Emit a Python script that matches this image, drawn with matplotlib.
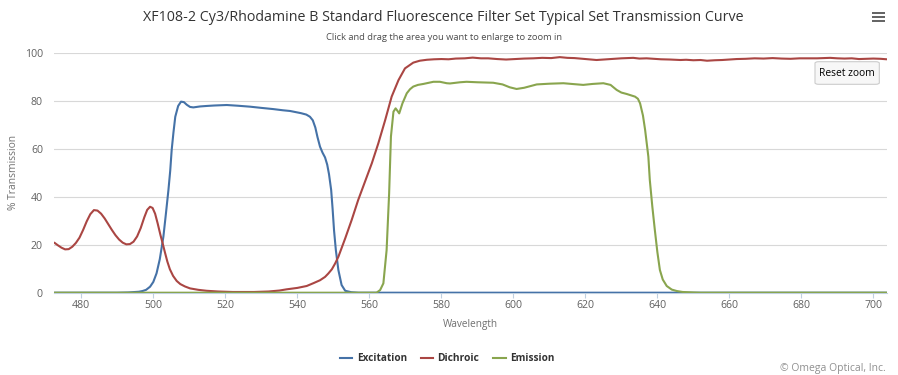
import matplotlib
matplotlib.use("Agg")
import matplotlib.pyplot as plt
from matplotlib.patches import FancyBboxPatch, Rectangle

W, H = 898, 375

# ---------------- data ----------------
title = "XF108-2 Cy3/Rhodamine B Standard Fluorescence Filter Set Typical Set Transmission Curve"
subtitle = "Click and drag the area you want to enlarge to zoom in"
x_label = "Wavelength"
y_label = "% Transmission"
series_names = ["Excitation", "Dichroic", "Emission"]
series_colors = ["#4572A7", "#AA4643", "#89A54E"]
x_ticks = [480, 500, 520, 540, 560, 580, 600, 620, 640, 660, 680, 700]
y_ticks = [0, 20, 40, 60, 80, 100]

exc_wl = [472.5, 490, 493, 496, 497, 498, 499.1, 500, 500.9, 501.8, 502.8, 503.5,
          504.2, 504.7, 505.1, 505.6, 506.1, 506.9, 507.7, 508.5, 509.3, 510.2, 511.1,
          513, 514.8, 517, 520.4, 523.5, 526.9, 530, 533.3, 536, 538, 541, 542.5,
          543.5, 544.3, 545, 545.6, 546.3, 547, 547.7, 548.3, 548.8, 549.4, 549.8,
          550.2, 550.7, 551.4, 552.3, 553.3, 555, 557, 703.7]
exc_t = [0, 0, 0.1, 0.4, 0.7, 1.2, 2.5, 4.5, 8.1, 14, 23.4, 33,
         42.9, 51, 59.6, 67, 73.5, 78, 79.8, 79.6, 78.5, 77.6, 77.4,
         77.8, 78, 78.2, 78.4, 78.1, 77.7, 77.2, 76.7, 76.2, 75.9, 75, 74.4,
         73.5, 72, 69, 65, 61, 58.5, 56.5, 53.5, 49.5, 42.9, 35,
         26, 17.8, 9.5, 3.2, 0.8, 0.2, 0, 0]

dic_wl = [472.5, 473.5, 474.5, 475.5, 476.5, 477.5, 478.5, 479.5, 480.5, 481.5, 482.5,
          483.5, 484.5, 485.5, 486.5, 487.5, 488.5, 489.5, 490.5, 491.5, 492.5, 493.5,
          494.5, 495.5, 496.5, 497.5, 498.3, 499.1, 499.8, 500.5, 501.2, 502, 502.6,
          503.2, 503.9, 504.6, 505.5, 506.5, 507.5, 508.8, 510.2, 512.5, 514.8, 518,
          522, 528, 532, 535, 537, 540, 542.6, 544.5, 546.3, 547.7, 548.6, 549.6, 550.5,
          551.4, 553.3, 555.1, 556.9, 558.8, 560.7, 562.5, 564.4, 566.2, 568.1, 569.9,
          572.2, 574, 576, 578, 580, 582, 584, 586.5, 588.7, 591, 593, 595.5, 598, 600.5,
          603, 605.5, 608, 610.5, 612.9, 615, 617, 620, 623.1, 625, 627, 630, 633.3, 635,
          637, 639, 641, 643.5, 646.4, 648, 650, 652, 653.8, 656, 658, 660, 662, 664.5,
          667, 669.5, 672, 674.5, 677, 679.5, 682, 684.4, 686, 688, 690, 692, 694, 696,
          698, 700, 702, 703.7]
dic_t = [20.9, 19.8, 18.8, 18.1, 18.2, 19.2, 20.8, 23, 26.2, 29.8, 32.8,
         34.5, 34.3, 33, 31, 28.6, 26.2, 24, 22.2, 20.9, 20.2, 20.3,
         21.3, 23.5, 27, 31.5, 34.6, 35.9, 35.4, 33, 29, 24, 20.6,
         17, 13, 9.8, 7, 4.9, 3.6, 2.6, 1.8, 1.2, 0.8, 0.5,
         0.3, 0.3, 0.5, 0.9, 1.4, 2, 2.8, 4, 5.2, 6.6, 8.0, 9.8, 12.2,
         15.0, 22.7, 30.4, 38.7, 46.4, 54.1, 62.4, 72.1, 81.9, 88.8, 93.7,
         96.1, 96.9, 97.3, 97.5, 97.6, 97.5, 97.8, 97.9, 98.2, 97.9, 97.9, 97.6, 97.4, 97.6,
         97.8, 97.9, 98.1, 98.0, 98.4, 98.1, 98.0, 97.6, 97.2, 97.4, 97.6, 97.9, 98.1, 97.8,
         97.9, 97.7, 97.5, 97.4, 97.2, 97.3, 97.1, 97.2, 96.9, 97.1, 97.2, 97.4, 97.6, 97.7,
         97.9, 97.8, 98.0, 97.8, 97.7, 97.9, 97.9, 97.9, 98.0, 98.1, 97.9, 97.8, 97.9, 97.6,
         97.7, 97.8, 97.7, 97.5]

emi_wl = [472.5, 562, 563, 563.9, 564.8, 565.5, 566, 566.7, 567.3, 567.8, 568.3,
          569.2, 570.4, 571.3, 572.2, 573.5, 575, 577.8, 579.6, 581.5, 582.4,
          585.2, 587, 590, 594.4, 597, 599, 600.9, 603, 606.5, 610, 613.9, 617, 619.4,
          622, 625, 627, 628.7, 630, 631.5, 633.8, 634.6, 635.2, 636, 636.6, 637.5,
          637.9, 638.6, 639.3, 640, 640.7, 641.5, 642.6, 644, 645.4, 647, 650, 652, 703.7]
emi_t = [0, 0, 1.1, 3.9, 17.8, 41.5, 65.2, 75.6, 77, 76, 74.9,
         79.1, 83.3, 85, 86.1, 86.8, 87.2, 88.1, 88.1, 87.5, 87.4,
         87.9, 88.1, 87.9, 87.7, 87.0, 85.8, 85.1, 85.6, 87, 87.3, 87.5, 87.1, 86.8,
         87.2, 87.5, 86.8, 84.7, 83.6, 83, 81.9, 81, 79.1, 74, 68, 56.8,
         47.1, 36, 26.2, 17, 9.5, 5.5, 2.8, 1.3, 0.7, 0.3, 0.1, 0, 0]

series_x = [exc_wl, dic_wl, emi_wl]
series_y = [exc_t, dic_t, emi_t]

# ---------------- layout ----------------
FONT = "Open Sans"
plt.rcParams["font.family"] = [FONT, "DejaVu Sans"]

fig = plt.figure(figsize=(W / 100, H / 100), dpi=100)
fig.patch.set_facecolor("white")

def fx(px):
    return px / W

def fy(py):
    return 1 - py / H

ax_l, ax_r, ax_t, ax_b = 54.3, 886.7, 53.3, 292.7
ax = fig.add_axes([fx(ax_l), fy(ax_b), fx(ax_r) - fx(ax_l), fy(ax_t) - fy(ax_b)])
ax.set_facecolor("white")

for xs, ys, c, n in zip(series_x, series_y, series_colors, series_names):
    ax.plot(xs, ys, color=c, lw=1.5, label=n, solid_joinstyle="round",
            solid_capstyle="round", clip_on=True)

ax.set_xlim(472.5, 703.7)
ax.set_ylim(0, 100)
ax.set_xticks(x_ticks)
ax.set_yticks(y_ticks)
ax.grid(axis="y", color="#D8D8D8", lw=0.8)
ax.set_axisbelow(True)
for s in ["top", "right", "left"]:
    ax.spines[s].set_visible(False)
ax.spines["bottom"].set_color("#C0D0E0")
ax.spines["bottom"].set_linewidth(0.8)
ax.spines["bottom"].set_zorder(0.5)
ax.tick_params(axis="x", colors="#C0D0E0", length=3.6, width=0.8, pad=1.8,
               labelcolor="#606060", labelsize=7.6)
ax.tick_params(axis="y", length=0, pad=8.2, labelcolor="#606060", labelsize=7.6)

renderer = fig.canvas.get_renderer()

def fit(t, target_w):
    bb = t.get_window_extent(renderer)
    t.set_fontsize(t.get_fontsize() * target_w / bb.width)

t = fig.text(fx(443.7), fy(20.7), title, ha="center", va="baseline",
             fontsize=11, color="#333333")
fit(t, 601)
t = fig.text(fx(444), fy(40.3), subtitle, ha="center", va="baseline",
             fontsize=7.5, color="#4d4d4d")
fit(t, 240)
t = fig.text(fx(470), fy(326.7), x_label, ha="center", va="baseline",
             fontsize=7.5, color="#707070")
fit(t, 54.6)
t = fig.text(fx(13.3), fy(172.5), y_label, ha="center", va="center",
             rotation=90, fontsize=7.5, color="#707070")
bb = t.get_window_extent(renderer)
t.set_fontsize(t.get_fontsize() * 75 / bb.height)

# legend
leg_lines = [(340, 352.3), (420.7, 433.3), (493.3, 505.7)]
leg_text = [(357.3, 406.7), (437.3, 479), (510, 554)]
for (a, b), (ta, tb), c, n in zip(leg_lines, leg_text, series_colors, series_names):
    fig.add_artist(plt.Line2D([fx(a), fx(b)], [fy(358.3), fy(358.3)],
                              transform=fig.transFigure, color=c, lw=1.5))
    t = fig.text(fx(ta), fy(361.3), n, ha="left", va="baseline", fontsize=8,
                 fontweight="bold", color="#333333")
    fit(t, tb - ta)

# credit
t = fig.text(fx(886), fy(371.5), "\u00a9 Omega Optical, Inc.", ha="right",
             va="baseline", fontsize=7, color="#909090")
fit(t, 106)

# reset zoom button
btn = FancyBboxPatch((fx(815), fy(84.3)), fx(879.3) - fx(815), fy(61.7) - fy(84.3),
                     boxstyle="round,pad=0,rounding_size=0.004",
                     transform=fig.transFigure, facecolor="#F7F7F7",
                     edgecolor="#CCCCCC", lw=0.8, zorder=5)
fig.add_artist(btn)
t = fig.text(fx(847.2), fy(75.5), "Reset zoom", ha="center", va="baseline",
             fontsize=7.5, color="#000000", zorder=6)
fit(t, 56)

# hamburger menu icon
for yy in (11.7, 15.7, 19.7):
    fig.add_artist(Rectangle((fx(872.3), fy(yy + 2.2)), fx(884.7) - fx(872.3),
                             fy(yy) - fy(yy + 2.2), transform=fig.transFigure,
                             facecolor="#666666", edgecolor="none"))

fig.savefig("out.png", dpi=100)
